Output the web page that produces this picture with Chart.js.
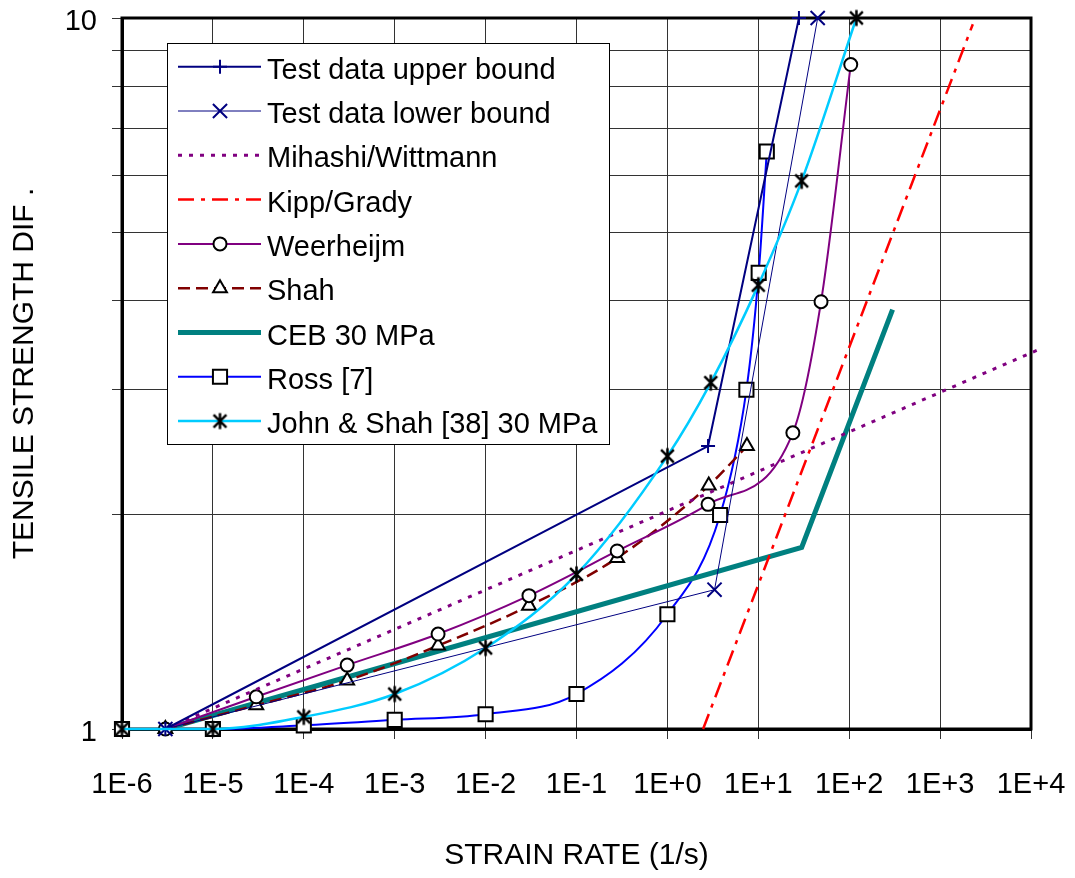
<!DOCTYPE html>
<html>
<head>
<meta charset="utf-8">
<script src="https://cdn.jsdelivr.net/npm/chart.js@4/dist/chart.umd.min.js"></script>
<style>
  body { margin: 0; background: #fff; }
  canvas { display: block; }
</style>
</head>
<body>
<canvas id="strainChart" width="1075" height="878"></canvas>
<script>
// Tensile strength DIF vs strain rate (log-log)

// --- axis ticks ---
const xTickValues = [1e-6, 1e-5, 1e-4, 1e-3, 1e-2, 1e-1, 1e0, 1e1, 1e2, 1e3, 1e4];
const xTickLabels = ['1E-6', '1E-5', '1E-4', '1E-3', '1E-2', '1E-1', '1E+0', '1E+1', '1E+2', '1E+3', '1E+4'];
const yTickValues = [1, 2, 3, 4, 5, 6, 7, 8, 9, 10];
const yTickLabels = ['1', '', '', '', '', '', '', '', '', '10'];

// --- series ---
const upperX = [3e-6, 2.8, 28];
const upperY = [1, 2.5, 10];

const lowerX = [3e-6, 3.3, 45];
const lowerY = [1, 1.57, 10];

const mihashiX = [3e-6, 1.17e4];
const mihashiY = [1, 3.41];

const kippX = [2.47, 2290];
const kippY = [1, 9.8];

const weerX = [3e-6, 3e-5, 3e-4, 3e-3, 3e-2, 0.28, 2.8, 24, 49, 104];
const weerY = [1, 1.11, 1.23, 1.36, 1.54, 1.78, 2.07, 2.61, 3.99, 8.6];

const shahX = [3e-6, 3e-5, 3e-4, 3e-3, 3e-2, 0.28, 2.85, 7.5];
const shahY = [1, 1.08, 1.17, 1.31, 1.49, 1.74, 2.2, 2.5];

const cebX = [3e-6, 30, 300];
const cebY = [1, 1.8, 3.89];

const rossX = [1e-6, 1e-5, 1e-4, 1e-3, 1e-2, 1e-1, 1, 3.8, 7.4, 10.1, 12.4];
const rossY = [1, 1, 1.012, 1.03, 1.049, 1.12, 1.45, 2.0, 3.0, 4.38, 6.49];

const johnX = [1e-6, 1e-5, 1e-4, 1e-3, 1e-2, 1e-1, 1, 3, 10, 30, 120];
const johnY = [1, 1.0, 1.04, 1.12, 1.3, 1.65, 2.42, 3.07, 4.21, 5.9, 10];

const FONT = "'Liberation Sans', Arial, sans-serif";

function toPoints(xs, ys) {
    return xs.map((x, i) => ({ x: x, y: ys[i] }));
}

// asterisk marker (X with a vertical bar)
function makeAsterisk(size) {
    const c = document.createElement('canvas');
    c.width = size;
    c.height = size;
    const g = c.getContext('2d');
    const m = size / 2, r = size / 2 - 1.5, d = r * 0.8;
    g.strokeStyle = '#000';
    g.lineWidth = 2.5;
    g.beginPath();
    g.moveTo(m, m - r); g.lineTo(m, m + r);
    g.moveTo(m - d, m - d); g.lineTo(m + d, m + d);
    g.moveTo(m + d, m - d); g.lineTo(m - d, m + d);
    g.stroke();
    return c;
}
const asterisk = makeAsterisk(19);

function markerOpts(style, radius, border, fill) {
    return {
        pointStyle: style,
        pointRadius: radius,
        pointHoverRadius: radius,
        pointBorderColor: border,
        pointBackgroundColor: fill,
        pointBorderWidth: 2
    };
}

const datasets = [
    Object.assign({
        label: 'Test data upper bound',
        data: toPoints(upperX, upperY),
        borderColor: '#000080', borderWidth: 2
    }, markerOpts('cross', 7, '#000080', '#000080')),
    Object.assign({
        label: 'Test data lower bound',
        data: toPoints(lowerX, lowerY),
        borderColor: '#000080', borderWidth: 1
    }, markerOpts('crossRot', 10, '#000080', '#000080')),
    {
        label: 'Mihashi/Wittmann',
        data: toPoints(mihashiX, mihashiY),
        borderColor: '#800080', borderWidth: 3, borderDash: [4, 7],
        pointRadius: 0
    },
    {
        label: 'Kipp/Grady',
        data: toPoints(kippX, kippY),
        borderColor: '#FF0000', borderWidth: 2.5, borderDash: [16, 7, 4, 7],
        pointRadius: 0
    },
    Object.assign({
        label: 'Weerheijm',
        data: toPoints(weerX, weerY),
        borderColor: '#800080', borderWidth: 2,
        cubicInterpolationMode: 'monotone'
    }, markerOpts('circle', 6.5, '#000', '#fff')),
    Object.assign({
        label: 'Shah',
        data: toPoints(shahX, shahY),
        borderColor: '#800000', borderWidth: 2.5, borderDash: [12, 6],
        cubicInterpolationMode: 'monotone'
    }, markerOpts('triangle', 8, '#000', '#fff')),
    {
        label: 'CEB 30 MPa',
        data: toPoints(cebX, cebY),
        borderColor: '#008080', borderWidth: 5,
        pointRadius: 0
    },
    Object.assign({
        label: 'Ross [7]',
        data: toPoints(rossX, rossY),
        borderColor: '#0000FF', borderWidth: 2,
        cubicInterpolationMode: 'monotone'
    }, markerOpts('rect', 10, '#000', '#fff')),
    Object.assign({
        label: 'John & Shah [38] 30 MPa',
        data: toPoints(johnX, johnY),
        borderColor: '#00CCFF', borderWidth: 2.5,
        cubicInterpolationMode: 'monotone',
        order: -1   // asterisks sit on top of the Ross squares
    }, markerOpts(asterisk, 9, '#000', '#000'))
];
datasets.forEach(ds => { ds.clip = false; ds.fill = false; });

// frame round the plot area
const framePlugin = {
    id: 'frame',
    beforeDatasetsDraw(chart) {
        const a = chart.chartArea, ctx = chart.ctx;
        ctx.save();
        ctx.strokeStyle = '#000';
        ctx.lineWidth = 3;
        ctx.strokeRect(a.left, a.top, a.right - a.left, a.bottom - a.top);
        ctx.restore();
    }
};

// boxed legend inside the plot
const boxLegend = {
    id: 'boxLegend',
    beforeDatasetsDraw(chart) {
        const ctx = chart.ctx;
        const box = { left: 167, top: 43, width: 442, height: 401 };
        const rowTop = 66.7, rowStep = 44.3;
        ctx.save();
        ctx.fillStyle = '#fff';
        ctx.fillRect(box.left, box.top, box.width, box.height);
        ctx.strokeStyle = '#000';
        ctx.lineWidth = 1;
        ctx.strokeRect(box.left + 0.5, box.top + 0.5, box.width, box.height);

        chart.data.datasets.forEach((ds, i) => {
            const y = rowTop + i * rowStep;
            ctx.setLineDash(ds.borderDash || []);
            ctx.strokeStyle = ds.borderColor;
            ctx.lineWidth = ds.borderWidth;
            ctx.beginPath();
            ctx.moveTo(178, y);
            ctx.lineTo(261, y);
            ctx.stroke();
            ctx.setLineDash([]);
            if (ds.pointRadius > 0) {
                ctx.fillStyle = ds.pointBackgroundColor;
                ctx.strokeStyle = ds.pointBorderColor;
                ctx.lineWidth = ds.pointBorderWidth;
                Chart.helpers.drawPoint(ctx, {
                    pointStyle: ds.pointStyle,
                    radius: ds.pointRadius,
                    rotation: 0,
                    borderWidth: ds.pointBorderWidth
                }, 220, y);
            }
            ctx.fillStyle = '#000';
            ctx.font = '29px ' + FONT;
            ctx.textBaseline = 'middle';
            ctx.textAlign = 'left';
            ctx.fillText(ds.label, 267, y + 4);
        });
        ctx.restore();
    }
};

// keep the plot box where the layout padding puts it
function noLabelPadding(s) {
    s.paddingTop = 0;
    s.paddingBottom = 0;
    s.paddingLeft = 0;
    s.paddingRight = 0;
}

Chart.defaults.font.family = FONT;
Chart.defaults.color = '#000';

new Chart(document.getElementById('strainChart'), {
    type: 'line',
    data: { datasets: datasets },
    options: {
        responsive: false,
        animation: false,
        devicePixelRatio: 1,
        layout: { padding: { top: 18, right: 44, left: 0, bottom: 0 } },
        plugins: {
            legend: { display: false },
            tooltip: { enabled: false }
        },
        scales: {
            x: {
                type: 'logarithmic',
                min: 1e-6,
                max: 1e4,
                afterBuildTicks: s => { s.ticks = xTickValues.map(v => ({ value: v })); },
                afterFit: s => { s.height = 149; noLabelPadding(s); },
                ticks: {
                    autoSkip: false,
                    maxRotation: 0,
                    padding: 29,
                    font: { size: 29 },
                    callback: (v, i) => xTickLabels[i]
                },
                grid: { color: '#333', lineWidth: 1, tickLength: 10 },
                border: { color: '#000', width: 3 },
                title: {
                    display: true,
                    text: 'STRAIN RATE (1/s)',
                    font: { size: 30 },
                    padding: { top: 0, bottom: 4 }
                }
            },
            y: {
                type: 'logarithmic',
                min: 1,
                max: 10,
                afterBuildTicks: s => { s.ticks = yTickValues.map(v => ({ value: v })); },
                afterFit: s => { s.width = 122; noLabelPadding(s); },
                ticks: {
                    autoSkip: false,
                    padding: 15,
                    labelOffset: 4,
                    font: { size: 29 },
                    callback: (v, i) => yTickLabels[i]
                },
                grid: { color: '#333', lineWidth: 1, tickLength: 10 },
                border: { color: '#000', width: 3 },
                title: {
                    display: true,
                    text: 'TENSILE STRENGTH DIF .',
                    font: { size: 30 },
                    padding: { top: 7, bottom: 0 }
                }
            }
        }
    },
    plugins: [framePlugin, boxLegend]
});
</script>
</body>
</html>
